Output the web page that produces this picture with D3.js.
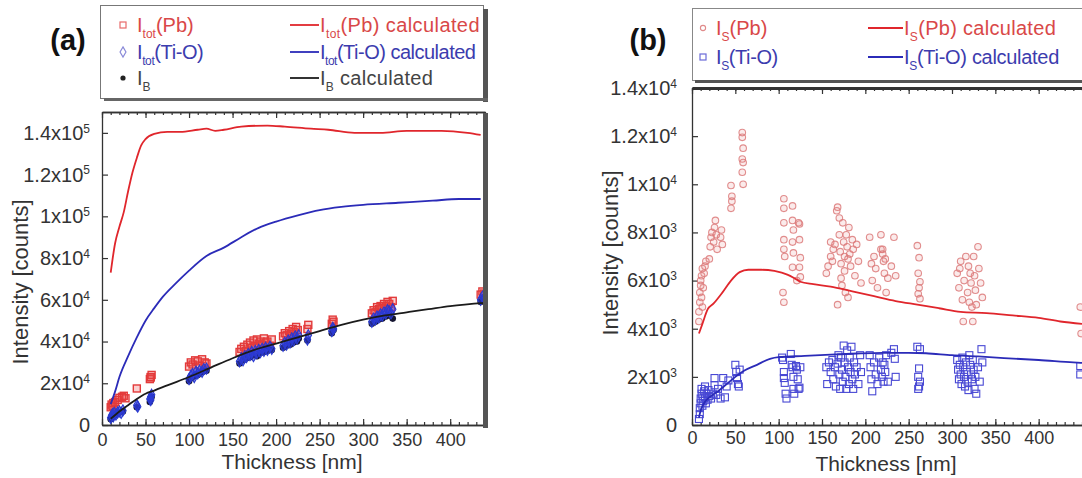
<!DOCTYPE html>
<html>
<head>
<meta charset="utf-8">
<script src="https://cdn.jsdelivr.net/npm/d3@7"></script>
<style>
  html, body { margin: 0; padding: 0; background: #fff; }
  svg { display: block; font-family: "Liberation Sans", Arial, sans-serif; }
</style>
</head>
<body>
<svg id="chart" width="1082" height="478"></svg>
<script>
// --- ticks -------------------------------------------------------------
const thicknessTicks = [0, 50, 100, 150, 200, 250, 300, 350, 400];
const yTicksA = [0, 20000, 40000, 60000, 80000, 100000, 120000, 140000];
const yTickLabelsA = [["0", ""], ["2x10", "4"], ["4x10", "4"], ["6x10", "4"], ["8x10", "4"], ["1x10", "5"], ["1.2x10", "5"], ["1.4x10", "5"]];
const yTicksB = [0, 2000, 4000, 6000, 8000, 10000, 12000, 14000];
const yTickLabelsB = [["0", ""], ["2x10", "3"], ["4x10", "3"], ["6x10", "3"], ["8x10", "3"], ["1x10", "4"], ["1.2x10", "4"], ["1.4x10", "4"]];

// --- panel (a): total intensities [nm, counts] ------------------------
const totPbMeasured = [
  [10,8500],[11,9800],[12,9000],[13,10500],[15,11000],[18,12000],[20,13000],[23,13500],[25,14000],[27,12800],
  [40,17500],
  [55,22000],[56,23000],[57,24000],[56,22800],
  [100,28000],[102,30000],[104,29000],[107,31000],[110,30500],[112,28500],[115,31500],[118,30000],[120,29500],
  [158,35000],[160,36500],[163,37500],[165,35500],[167,38500],[170,39500],[172,37000],[174,40500],[176,38000],
  [178,41000],[180,39000],[182,40000],[184,38500],[186,41500],[188,39500],[190,40000],[193,38000],[195,41000],
  [208,42500],[210,44000],[212,43000],[215,45000],[217,43500],[219,46000],[221,44500],[223,47000],[225,45500],
  [236,46000],[237,48000],
  [264,48500],[265,50500],[266,49500],
  [310,53500],[312,55000],[314,54000],[316,56500],[318,55500],[320,57000],[322,56000],[324,58000],[326,57000],
  [328,59000],[330,58000],[332,56500],[334,59500],
  [435,62500],[437,64000],[439,63000]
];
const totTiOMeasured = [
  [10,3500],[11,4500],[12,5200],[13,4200],[14,5800],[16,5000],[18,6000],[20,6500],[22,5800],[24,7000],
  [40,9500],[41,8800],
  [55,12500],[56,13500],[57,14500],[56,12000],
  [100,22000],[102,23500],[104,24500],[106,23000],[108,25500],[110,24800],[112,26000],[115,25500],[117,26800],[120,27000],
  [158,30500],[160,32000],[162,31000],[164,33000],[166,32500],[168,34000],[170,33500],[172,35000],[174,33000],
  [176,35500],[178,34500],[180,36000],[182,35000],[184,36500],[186,35500],[188,37000],[190,36000],[193,37500],[195,36500],
  [208,38000],[210,39500],[212,38500],[214,40500],[216,39500],[218,41500],[220,40500],[222,42500],[224,41500],[226,43000],
  [236,41000],[237,43000],
  [264,45000],[265,46500],[266,46000],
  [310,49500],[312,51000],[314,50500],[316,52000],[318,51500],[320,53000],[322,52500],[324,54000],[326,53500],
  [328,55000],[330,54500],[332,53500],[334,55500],
  [435,60000],[437,61500],[439,61000]
];
const ibMeasured = [
  [10,2800],[12,3800],[14,4500],[16,5000],[18,5500],[20,6000],[24,6500],
  [40,8500],
  [55,11000],[56,12500],[57,13500],
  [100,21000],[103,22500],[106,23500],[110,24000],[113,25000],[116,25500],[120,26000],
  [158,29500],[162,31000],[166,32000],[170,32500],[174,33500],[178,33000],[182,34500],[186,35000],[190,35500],[195,36000],
  [208,37000],[212,38000],[216,38500],[220,39500],[224,40000],[226,41500],
  [236,40500],
  [264,44000],[266,45500],
  [310,48500],[314,49500],[318,50500],[322,51000],[326,52000],[330,52500],[334,51000],
  [435,59000],[438,60500]
];
const totPbCalc = [
  [10,73000],[15,87000],[20,95000],[25,102000],[30,112000],[35,121000],[40,128000],[45,134000],[50,137000],
  [60,139500],[75,140500],[90,140500],[110,141500],[120,142000],[130,141000],[140,141500],[160,143000],
  [190,143500],[210,143000],[240,142000],[260,141500],[290,140000],[320,140000],[350,141000],[390,141000],
  [420,140000],[435,139000]
];
const totTiOCalc = [
  [10,10000],[15,16000],[20,23000],[30,33000],[40,42000],[50,50000],[60,56000],[70,61500],[85,68000],
  [100,74000],[120,81000],[140,85000],[160,90000],[180,94500],[200,97500],[225,100500],[250,103000],
  [275,104500],[300,105500],[340,106500],[380,107500],[410,108300],[435,108300]
];
const ibCalc = [
  [10,3000],[20,6500],[30,9500],[40,12500],[50,15000],[60,16500],[75,19000],[100,23000],[125,27500],
  [150,32000],[175,36000],[200,39000],[225,42000],[250,45000],[275,48000],[300,50500],[325,52500],
  [350,54000],[375,55500],[400,57000],[440,58500]
];

// --- panel (b): scattered intensities [nm, counts] --------------------
const sPbMeasured = [
  [8,4300],[8,4700],[9,5100],[9,5500],[10,5800],[10,6000],[11,6200],[11,5300],[12,4900],[12,6500],[13,5700],[14,6300],[15,6600],[16,6800],
  [20,6900],[21,7400],[22,7800],[23,8000],[25,7600],[26,8200],[27,8500],[28,7900],[29,7300],[33,7800],[34,8100],[35,7500],
  [45,9950],[46,9500],[46,9300],[45,9000],
  [58,12150],[58,11950],[59,11500],[58,11050],[59,10900],[58,10500],[59,10000],
  [106,9400],[106,9000],[106,8400],[106,7700],[106,7300],[107,7000],[105,5500],[106,5100],
  [116,9100],[116,8500],[117,8100],[116,7600],[117,7150],[116,6550],
  [123,8400],[124,8350],[124,7700],[125,6950],[124,6550],[125,6150],[121,6000],
  [155,6300],[157,6600],[160,7000],[162,6800],[160,7600],[163,7300],[165,7500],[167,8900],[168,9050],[170,8600],
  [170,7900],[171,7200],[172,6700],[172,6100],[173,5800],[174,8400],[175,7600],[176,7000],[176,6400],[177,5500],
  [178,7900],[179,7400],[180,6900],[181,8200],[182,7100],[183,6600],[185,7700],[186,7300],[188,6200],[190,7500],
  [192,6800],[195,5900],[168,5000],[180,5300],
  [205,7800],[207,6700],[208,6000],[210,7000],[212,6500],[214,5700],[218,7900],[218,7300],[220,7300],[220,7100],
  [221,6800],[222,6300],[223,6900],[224,5500],[226,6100],[230,6600],[233,7800],[235,6200],
  [260,7450],[262,6950],[261,6300],[263,5950],[262,5700],[261,5450],[263,5250],
  [306,6300],[308,5700],[309,6500],[310,6800],[312,5200],[313,4300],[314,6000],[316,7000],[318,5500],[319,6600],
  [320,5100],[321,6300],[322,5900],[323,4900],[324,4300],[325,7000],[326,6200],[327,5600],[328,5000],[330,7400],
  [331,6500],[333,5900],[335,5300],
  [448,4900],[449,3800]
];
const sTiOMeasured = [
  [8,250],[9,450],[9,700],[10,900],[10,1100],[11,1300],[11,1500],[12,800],[12,1200],[13,1000],[14,1400],[15,1600],
  [15,1150],[16,900],[17,1300],[18,1050],[19,1450],[20,1200],[22,1100],[24,1300],[26,1650],[28,1250],
  [26,1950],[30,1500],[33,1100],[36,1950],[38,1150],[40,1600],[42,1850],
  [50,2500],[51,2200],[52,1950],[53,1700],[54,1600],[55,2300],
  [104,2800],[105,2700],[106,2200],[106,1950],[107,1750],[108,1300],[109,1100],[114,2950],[115,2500],[116,2400],
  [117,2000],[117,1500],[118,1300],[120,2450],[121,2300],[122,1900],[123,1500],[124,1550],[125,2400],
  [155,2400],[156,1700],[158,2600],[160,2200],[162,2700],[163,1900],[165,2400],[166,1600],[168,2550],[169,2900],
  [170,2100],[171,1500],[172,2800],[173,2300],[174,1800],[175,3300],[176,2600],[177,2000],[178,1500],[179,3100],
  [180,2400],[181,1700],[182,2800],[183,2200],[184,3250],[185,1900],[186,1500],[187,2600],[188,2100],[190,2400],
  [192,1700],[194,2900],[195,2200],
  [205,2900],[206,2400],[207,1900],[208,1400],[210,2600],[212,2100],[214,1700],[216,2800],[218,2300],[219,2000],
  [220,2600],[221,1800],[222,2500],[223,2200],[224,2900],[226,1800],[230,3000],[233,3150],[234,2750],[235,2000],
  [260,3250],[263,3150],[262,2350],[261,2000],[263,1800],[262,1600],[261,1500],
  [306,2700],[307,2300],[308,1900],[309,2500],[310,2100],[311,1700],[312,2800],[313,2400],[314,2000],[315,1600],
  [316,2600],[317,2200],[318,1800],[319,1450],[320,2900],[321,2500],[322,2100],[323,1900],[324,2700],[325,2300],
  [326,1500],[327,2000],[328,1300],[330,2400],[332,1800],[334,3150],[335,2600],
  [448,2100],[448,2450]
];
const sPbCalc = [
  [8,3800],[12,4200],[18,4800],[25,5050],[35,5500],[45,6000],[55,6350],[65,6450],[80,6450],[95,6400],
  [110,6250],[118,6100],[125,5950],[140,5850],[160,5750],[185,5550],[210,5350],[235,5150],[260,5000],
  [285,4850],[310,4700],[340,4650],[370,4550],[400,4450],[425,4300],[450,4200]
];
const sTiOCalc = [
  [8,300],[10,600],[13,850],[17,1050],[22,1200],[30,1400],[40,1700],[50,2000],[60,2250],[75,2500],[90,2750],
  [100,2820],[130,2870],[160,2920],[190,2970],[220,3000],[250,3000],[270,2980],[300,2900],[330,2850],
  [360,2780],[400,2700],[440,2600],[450,2580]
];

const RED = "#e0262c", BLUE = "#2b2bb8", BLACK = "#1b1b1b", AXIS = "#333";
const svg = d3.select("#chart");

// "I" + subscript + rest, as one text element
function subText(sel, x, y, color, base, sub, rest, spacing) {
  const t = sel.append("text").attr("x", x).attr("y", y).attr("fill", color).attr("font-size", 20);
  if (spacing) t.attr("letter-spacing", spacing);
  t.append("tspan").text(base);
  t.append("tspan").attr("font-size", 12).attr("dy", 6).text(sub);
  t.append("tspan").attr("dy", -6).text(rest);
}

function drawPanel(cfg) {
  const x = d3.scaleLinear().domain(cfg.xDomain).range([cfg.left, cfg.right]);
  const y = d3.scaleLinear().domain(cfg.yDomain).range([cfg.bottom, cfg.top]);
  const g = svg.append("g");

  g.append("clipPath").attr("id", cfg.id + "-clip")
    .append("rect").attr("x", cfg.left).attr("y", cfg.top)
    .attr("width", cfg.right - cfg.left).attr("height", cfg.bottom - cfg.top);

  const styleAxis = (sel) => {
    sel.attr("font-size", 18).attr("font-family", null);
    sel.select(".domain").attr("stroke", AXIS).attr("stroke-width", 1.3);
    sel.selectAll(".tick line").attr("stroke", AXIS).attr("stroke-width", 1.2);
    sel.selectAll(".tick text").attr("fill", AXIS);
  };
  const minor = d3.range(cfg.xDomain[0], cfg.xDomain[1] + 1, 10);

  // x axes (bottom with labels, top without), ticks pointing inward
  g.append("g").attr("transform", `translate(0,${cfg.bottom})`)
    .call(d3.axisBottom(x).tickValues(minor).tickSizeInner(-3).tickSizeOuter(0).tickFormat(""))
    .call(styleAxis);
  g.append("g").attr("transform", `translate(0,${cfg.bottom})`)
    .call(d3.axisBottom(x).tickValues(thicknessTicks).tickSizeInner(-6).tickSizeOuter(0).tickPadding(cfg.xPad))
    .call(styleAxis);
  g.append("g").attr("transform", `translate(0,${cfg.top})`)
    .call(d3.axisTop(x).tickValues(minor).tickSizeInner(-3).tickSizeOuter(0).tickFormat(""))
    .call(styleAxis);
  g.append("g").attr("transform", `translate(0,${cfg.top})`)
    .call(d3.axisTop(x).tickValues(thicknessTicks).tickSizeInner(-6).tickSizeOuter(0).tickFormat(""))
    .call(styleAxis)
    .call((s) => s.select(".domain").attr("stroke-width", cfg.topWidth));

  // y axis with superscript labels
  g.append("g").attr("transform", `translate(${cfg.left},0)`)
    .call(d3.axisLeft(y).tickValues(cfg.yTicks).tickSizeInner(-6).tickSizeOuter(0).tickPadding(cfg.yPad))
    .call(styleAxis)
    .attr("font-size", 20)
    .selectAll(".tick text")
    .each(function (d, i) {
      const lab = cfg.yLabels[i];
      const t = d3.select(this).text(null);
      t.append("tspan").text(lab[0]);
      if (lab[1]) t.append("tspan").attr("dy", "-0.6em").attr("font-size", 12).text(lab[1]);
    });

  // axis titles
  g.append("text")
    .attr("transform", `translate(${cfg.yTitleX},${cfg.yTitleY}) rotate(-90)`)
    .attr("text-anchor", "middle").attr("dy", "0.35em")
    .attr("font-size", 22).attr("fill", AXIS).text("Intensity [counts]");
  g.append("text")
    .attr("x", cfg.xTitleX).attr("y", cfg.xTitleY)
    .attr("text-anchor", "middle").attr("dy", "0.35em")
    .attr("font-size", 21).attr("fill", AXIS).text("Thickness [nm]");

  const plot = g.append("g").attr("clip-path", `url(#${cfg.id}-clip)`);
  return { x, y, g, plot };
}

// ---------------- panel (a) ----------------
const A = drawPanel({
  id: "pa", left: 102, right: 485, top: 112, bottom: 425,
  xDomain: [0, 440], yDomain: [0, 150000], yTicks: yTicksA, yLabels: yTickLabelsA,
  xPad: 8, yPad: 12, topWidth: 1.3,
  yTitleX: 20, yTitleY: 282, xTitleX: 292, xTitleY: 462
});

A.plot.append("g").selectAll("rect").data(totPbMeasured).join("rect")
  .attr("x", (d) => A.x(d[0]) - 3.5).attr("y", (d) => A.y(d[1]) - 3.5)
  .attr("width", 7).attr("height", 7)
  .attr("fill", "rgba(235,70,70,0.25)").attr("stroke", "#e33a3a").attr("stroke-width", 1.4);
A.plot.append("g").selectAll("circle").data(ibMeasured).join("circle")
  .attr("cx", (d) => A.x(d[0])).attr("cy", (d) => A.y(d[1])).attr("r", 3.3)
  .attr("fill", "#141430");
A.plot.append("g").selectAll("path").data(totTiOMeasured).join("path")
  .attr("transform", (d) => `translate(${A.x(d[0])},${A.y(d[1])})`)
  .attr("d", d3.symbol(d3.symbolDiamond, 36))
  .attr("fill", "rgba(50,60,220,0.55)").attr("stroke", "#2a3ad0").attr("stroke-width", 1.1);

const lineA = d3.line().x((d) => A.x(d[0])).y((d) => A.y(d[1])).curve(d3.curveMonotoneX);
[[totPbCalc, RED], [totTiOCalc, BLUE], [ibCalc, BLACK]].forEach(([data, color]) => {
  A.plot.append("path").datum(data).attr("d", lineA)
    .attr("fill", "none").attr("stroke", color).attr("stroke-width", 1.8);
});

// right-side shadow of frame (a)
A.g.append("rect").attr("x", 483).attr("y", 113).attr("width", 5).attr("height", 315).attr("fill", "#555");

// legend (a)
const legA = svg.append("g");
legA.append("rect").attr("x", 100.5).attr("y", 5.5).attr("width", 383).attr("height", 93)
  .attr("fill", "#fff").attr("stroke", "#777");
legA.append("rect").attr("x", 483).attr("y", 9).attr("width", 5).attr("height", 93).attr("fill", "#555");
legA.append("rect").attr("x", 104).attr("y", 98).attr("width", 384).attr("height", 3).attr("fill", "#666");
legA.append("rect").attr("x", 120).attr("y", 22).attr("width", 6).attr("height", 6)
  .attr("fill", "none").attr("stroke", "#e86a6a").attr("stroke-width", 1.2);
legA.append("path").attr("transform", "translate(123,52)").attr("d", d3.symbol(d3.symbolDiamond, 30))
  .attr("fill", "none").attr("stroke", "#8a8ad8").attr("stroke-width", 1.2);
legA.append("circle").attr("cx", 123).attr("cy", 78).attr("r", 2.6).attr("fill", "#222");
subText(legA, 137, 32, "#d94848", "I", "tot", "(Pb)");
subText(legA, 137, 59, "#3c3cae", "I", "tot", "(Ti-O)", -0.4);
subText(legA, 137, 85, "#444", "I", "B", "");
[[25, RED], [52, BLUE], [78, BLACK]].forEach(([yy, c]) => {
  legA.append("line").attr("x1", 290).attr("x2", 319).attr("y1", yy).attr("y2", yy)
    .attr("stroke", c).attr("stroke-width", 1.8);
});
subText(legA, 320, 32, "#d94848", "I", "tot", "(Pb) calculated", 0.4);
subText(legA, 320, 59, "#3c3cae", "I", "tot", "(Ti-O) calculated", -0.5);
subText(legA, 320, 85, "#444", "I", "B", " calculated", 0.3);

svg.append("text").attr("x", 68).attr("y", 50).attr("text-anchor", "middle")
  .attr("font-size", 29).attr("font-weight", "bold").attr("fill", "#111").text("(a)");

// ---------------- panel (b) ----------------
const B = drawPanel({
  id: "pb", left: 692, right: 1082, top: 88, bottom: 425,
  xDomain: [0, 450], yDomain: [0, 14000], yTicks: yTicksB, yLabels: yTickLabelsB,
  xPad: 6, yPad: 15, topWidth: 3,
  yTitleX: 610, yTitleY: 253, xTitleX: 886, xTitleY: 464
});

B.plot.append("g").selectAll("circle").data(sPbMeasured).join("circle")
  .attr("cx", (d) => B.x(d[0])).attr("cy", (d) => B.y(d[1])).attr("r", 3.3)
  .attr("fill", "rgba(230,120,120,0.15)").attr("stroke", "#dc7a7a").attr("stroke-width", 1.1)
  .attr("stroke-opacity", 0.85);
B.plot.append("g").selectAll("rect").data(sTiOMeasured).join("rect")
  .attr("x", (d) => B.x(d[0]) - 3.5).attr("y", (d) => B.y(d[1]) - 3.5)
  .attr("width", 7).attr("height", 7)
  .attr("fill", "none").attr("stroke", "#4848d4").attr("stroke-width", 1.1);

const lineB = d3.line().x((d) => B.x(d[0])).y((d) => B.y(d[1])).curve(d3.curveMonotoneX);
[[sPbCalc, RED], [sTiOCalc, BLUE]].forEach(([data, color]) => {
  B.plot.append("path").datum(data).attr("d", lineB)
    .attr("fill", "none").attr("stroke", color).attr("stroke-width", 1.8);
});

// legend (b)
const legB = svg.append("g");
legB.append("rect").attr("x", 692.5).attr("y", 8.5).attr("width", 400).attr("height", 72)
  .attr("fill", "#fff").attr("stroke", "#888");
legB.append("rect").attr("x", 695).attr("y", 80).attr("width", 400).attr("height", 3).attr("fill", "#555");
legB.append("circle").attr("cx", 703).attr("cy", 28).attr("r", 2.6)
  .attr("fill", "none").attr("stroke", "#e08a8a").attr("stroke-width", 1.1);
legB.append("rect").attr("x", 700).attr("y", 54).attr("width", 6).attr("height", 6)
  .attr("fill", "none").attr("stroke", "#6a6ad8").attr("stroke-width", 1.2);
subText(legB, 716, 35, "#d94848", "I", "S", "(Pb)");
subText(legB, 716, 64, "#3c3cae", "I", "S", "(Ti-O)", -0.4);
[[28, RED], [57, BLUE]].forEach(([yy, c]) => {
  legB.append("line").attr("x1", 868).attr("x2", 903).attr("y1", yy).attr("y2", yy)
    .attr("stroke", c).attr("stroke-width", 1.8);
});
subText(legB, 904, 35, "#d94848", "I", "S", "(Pb) calculated", 0.3);
subText(legB, 904, 64, "#3c3cae", "I", "S", "(Ti-O) calculated", -0.3);

svg.append("text").attr("x", 648).attr("y", 50).attr("text-anchor", "middle")
  .attr("font-size", 29).attr("font-weight", "bold").attr("fill", "#111").text("(b)");
</script>
</body>
</html>
